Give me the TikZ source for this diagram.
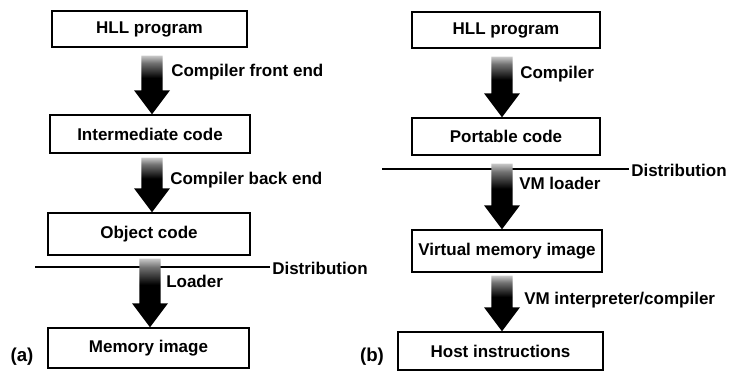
\documentclass[tikz,border=0pt]{standalone}
\usepackage{fontspec}
\setmainfont{Liberation Sans}
\usetikzlibrary{calc}

% shaft fades from light grey at the top into solid black
\pgfdeclareverticalshading{fadearrow}{100bp}{%
  color(0bp)=(black); color(25bp)=(black); color(56bp)=(black);
  color(69bp)=(black!55); color(75bp)=(black!22); color(100bp)=(black!22)}

% broad block arrow: #1 = top of the shaft, #2 = tip (the tip fixes the x position)
\newcommand\fatarrow[2]{%
  \shade[shading=fadearrow] let \p1=(#1), \p2=(#2) in
    (\x2-7.9pt,\y1) -- (\x2+7.9pt,\y1) -- (\x2+7.9pt,\y2+18pt)
    -- (\x2+13.5pt,\y2+18pt) -- (\x2,\y2) -- (\x2-13.5pt,\y2+18pt)
    -- (\x2-7.9pt,\y2+18pt) -- cycle;}

\begin{document}
\begin{tikzpicture}[x=0.75pt,y=-0.75pt,
  font=\fontsize{12.75}{15}\selectfont\bfseries,
  stagebox/.style={draw, line width=1.1pt, inner sep=0pt},
  steplabel/.style={anchor=base west, inner sep=0pt},
  distline/.style={line width=1.5pt},
  partlabel/.style={inner sep=0pt, font=\fontsize{14}{16}\selectfont\bfseries}]

\fill[white] (0,0) rectangle (729,379);
\useasboundingbox (0,0) rectangle (729,379);

% ---------- (a) conventional compilation ----------
\node[stagebox, minimum width=146.25pt, minimum height=27pt]   (hllA) at (149.5,29)  {HLL program};
\node[stagebox, minimum width=150pt,    minimum height=28.5pt] (midA) at (150,134)   {Intermediate code};
\node[stagebox, minimum width=151.5pt,  minimum height=31.5pt] (objA) at (149,234)   {Object code};
\node[stagebox, minimum width=150.75pt, minimum height=30pt]   (memA) at (148.5,348) {Memory image};

\node[steplabel] (lblA1) at (171,76)  {Compiler front end};
\node[steplabel] (lblA2) at (170,184) {Compiler back end};
\node[steplabel] (lblA3) at (166,287) {Loader};

\coordinate (dA) at (35,267);
\node[anchor=west, inner sep=1.5pt] (distA) at (270,268) {Distribution};
\draw[distline] (dA) -- (dA -| distA.west);

\fatarrow{$(hllA.south)+(2.5,8)$}{$(midA.north)+(2,0)$}
\fatarrow{$(midA.south)+(2,4)$}{$(objA.north)+(3,0)$}
\fatarrow{$(objA.south)+(1,3)$}{$(memA.north)+(1.5,0)$}

\node[partlabel] (partA) at (22,357) {(a)};

% ---------- (b) virtual machine ----------
\node[stagebox, minimum width=141pt,    minimum height=27pt]    (hllB)  at (506,30)    {HLL program};
\node[stagebox, minimum width=141pt,    minimum height=27.75pt] (portB) at (506,136.5) {Portable code};
\node[stagebox, minimum width=142.5pt,  minimum height=31.5pt]  (vmiB)  at (507,251)   {Virtual memory image};
\node[stagebox, minimum width=153.75pt, minimum height=28.5pt]  (hostB) at (500.5,351) {Host instructions};

\node[steplabel] (lblB1) at (520,78)  {Compiler};
\node[steplabel] (lblB2) at (519,189) {VM loader};
\node[steplabel] (lblB3) at (524,304) {VM interpreter/compiler};

\coordinate (dB) at (382,169);
\node[anchor=west, inner sep=1.5pt] (distB) at (629,170) {Distribution};
\draw[distline] (dB) -- (dB -| distB.west);

\fatarrow{$(hllB.south)+(-4,8)$}{$(portB.north)+(-4,0)$}
\fatarrow{$(portB.south)+(-5,8)$}{$(vmiB.north)+(-5,0)$}
\fatarrow{$(vmiB.south)+(-5,3)$}{$(hostB.north)+(1.5,0)$}

\node[partlabel] (partB) at (372,357) {(b)};
\end{tikzpicture}
\end{document}
